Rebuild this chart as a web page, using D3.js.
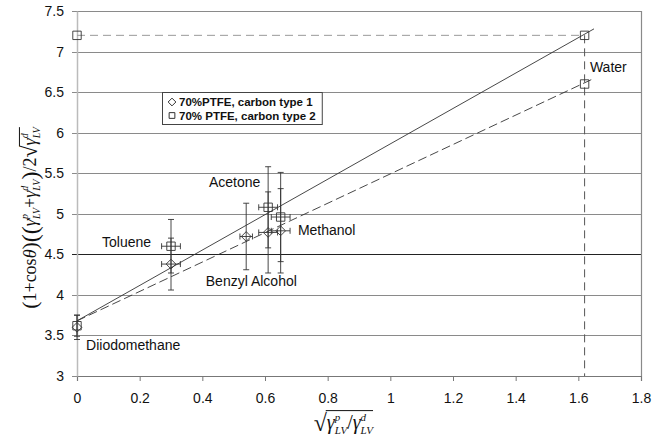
<!DOCTYPE html>
<html>
<head>
<meta charset="utf-8">
<script src="https://cdn.jsdelivr.net/npm/d3@7"></script>
<style>
  body { margin: 0; background: #fff; }
  svg text { font-family: "Liberation Sans", Arial, sans-serif; fill: #111; }
</style>
</head>
<body>
<svg id="chart" width="653" height="446"></svg>
<script>
// Axis ticks
const xTicks = [0, 0.2, 0.4, 0.6, 0.8, 1, 1.2, 1.4, 1.6, 1.8];
const yTicks = [3, 3.5, 4, 4.5, 5, 5.5, 6, 6.5, 7, 7.5];

// 70%PTFE, carbon type 1 (diamonds)
const type1X = [0, 0.30, 0.54, 0.61, 0.65];
const type1Y = [3.60, 4.38, 4.72, 4.77, 4.79];
const type1XErr = [0, 0.03, 0.02, 0.03, 0.03];
const type1YErr = [0.15, 0.32, 0.41, 0.50, 0.52];

// 70% PTFE, carbon type 2 (squares)
const type2X = [0, 0.30, 0.61, 0.65];
const type2Y = [3.62, 4.60, 5.08, 4.96];
const type2XErr = [0, 0.03, 0.03, 0.03];
const type2YErr = [0.13, 0.33, 0.50, 0.55];

// water points and the guide marker
const waterX = [1.62, 1.62];
const waterY = [7.20, 6.60];
const guideX = [0, 1.62];
const guideY = [7.20, 7.20];

// fitted lines [x, y]
const fitSolid = [[0, 3.68], [1.65, 7.28]];
const fitDashed = [[0, 3.68], [1.645, 6.66]];

// solvent labels
const labelNames = ["Water", "Acetone", "Toluene", "Methanol", "Benzyl Alcohol", "Diiodomethane"];
const labelX = [1.637, 0.421, 0.08, 0.705, 0.411, 0.029];
const labelY = [6.75, 5.33, 4.59, 4.74, 4.11, 3.32];

const legendNames = ["70%PTFE, carbon type 1", "70% PTFE, carbon type 2"];

const svg = d3.select("#chart");
const margin = { top: 11, right: 12, bottom: 70, left: 77 };
const width = 653 - margin.left - margin.right,
      height = 446 - margin.top - margin.bottom;

const g = svg.append("g").attr("transform", `translate(${margin.left},${margin.top})`);

const x = d3.scaleLinear().domain([0, 1.8]).range([0, width]);
const y = d3.scaleLinear().domain([3, 7.5]).range([height, 0]);

const ink = "#333";

// gridlines
g.selectAll(".grid")
    .data(yTicks)
    .enter().append("line")
    .attr("x1", -5).attr("x2", width)
    .attr("y1", d => Math.round(y(d)) + 0.5).attr("y2", d => Math.round(y(d)) + 0.5)
    .attr("stroke", d => d === 4.5 ? "#222" : "#8a8a8a")
    .attr("stroke-width", 1.2);

// right frame
g.append("line")
    .attr("x1", width + 0.5).attr("x2", width + 0.5)
    .attr("y1", 0).attr("y2", height)
    .attr("stroke", "#8a8a8a").attr("stroke-width", 1.2);

// X axis
const xAxis = g.append("g")
    .attr("transform", `translate(0,${height})`)
    .call(d3.axisBottom(x).tickValues(xTicks).tickSize(5).tickPadding(12)
        .tickFormat(d => d3.format("")(+d.toFixed(1))));
xAxis.select(".domain").attr("stroke", "#777").attr("stroke-width", 1.2);
xAxis.selectAll(".tick line").attr("stroke", "#777");
xAxis.selectAll("text").style("font-size", "14px").attr("fill", "#111");

// Y axis
const yAxis = g.append("g")
    .call(d3.axisLeft(y).tickValues(yTicks).tickSize(0).tickPadding(13)
        .tickFormat(d => d3.format("")(d)));
yAxis.select(".domain").attr("stroke", "#bbb").attr("stroke-width", 1.5);
yAxis.selectAll("text").style("font-size", "14px").attr("fill", "#111");

// guide dashed lines to the water point
g.append("line")
    .attr("x1", x(guideX[0])).attr("x2", x(guideX[1]))
    .attr("y1", y(guideY[0])).attr("y2", y(guideY[1]))
    .attr("stroke", "#999").attr("stroke-dasharray", "8,5");
g.append("line")
    .attr("x1", x(guideX[1])).attr("x2", x(guideX[1]))
    .attr("y1", y(guideY[1])).attr("y2", y(3))
    .attr("stroke", "#555").attr("stroke-dasharray", "8,5");

// fitted lines
const line = d3.line().x(d => x(d[0])).y(d => y(d[1]));
g.append("path").attr("d", line(fitSolid))
    .attr("fill", "none").attr("stroke", ink).attr("stroke-width", 0.9);
g.append("path").attr("d", line(fitDashed))
    .attr("fill", "none").attr("stroke", ink).attr("stroke-width", 0.9)
    .attr("stroke-dasharray", "9,4");

// error bars
function errorBars(xs, ys, xe, ye) {
    xs.forEach((xv, i) => {
        const cx = x(xv), cy = y(ys[i]);
        const y0 = y(ys[i] - ye[i]), y1 = y(ys[i] + ye[i]);
        g.append("line").attr("x1", cx).attr("x2", cx).attr("y1", y0).attr("y2", y1)
            .attr("stroke", ink).attr("stroke-width", 0.9);
        [y0, y1].forEach(yy => g.append("line")
            .attr("x1", cx - 3).attr("x2", cx + 3).attr("y1", yy).attr("y2", yy)
            .attr("stroke", ink).attr("stroke-width", 0.9));
        if (xe[i] > 0) {
            const x0 = x(xv - xe[i]), x1 = x(xv + xe[i]);
            g.append("line").attr("x1", x0).attr("x2", x1).attr("y1", cy).attr("y2", cy)
                .attr("stroke", ink).attr("stroke-width", 0.9);
            [x0, x1].forEach(xx => g.append("line")
                .attr("x1", xx).attr("x2", xx).attr("y1", cy - 3).attr("y2", cy + 3)
                .attr("stroke", ink).attr("stroke-width", 0.9));
        }
    });
}
errorBars(type1X, type1Y, type1XErr, type1YErr);
errorBars(type2X, type2Y, type2XErr, type2YErr);

// markers
const diamond = d3.symbol().type(d3.symbolDiamond2).size(60);
const square = d3.symbol().type(d3.symbolSquare2).size(90);

g.selectAll(".d1")
    .data(type1X.map((v, i) => [v, type1Y[i]]))
    .enter().append("path")
    .attr("d", diamond)
    .attr("transform", d => `translate(${x(d[0])},${y(d[1])})`)
    .attr("fill", "none").attr("stroke", ink).attr("stroke-width", 0.9);

g.selectAll(".s2")
    .data(type2X.map((v, i) => [v, type2Y[i]])
        .concat(waterX.map((v, i) => [v, waterY[i]]))
        .concat([[guideX[0], guideY[0]]]))
    .enter().append("path")
    .attr("d", square)
    .attr("transform", d => `translate(${x(d[0])},${y(d[1])})`)
    .attr("fill", "none").attr("stroke", ink).attr("stroke-width", 0.9);

// solvent labels
g.selectAll(".lbl")
    .data(labelNames)
    .enter().append("text")
    .attr("x", (d, i) => x(labelX[i]))
    .attr("y", (d, i) => y(labelY[i]))
    .style("font-size", "14px")
    .text(d => d);

// legend
const lg = svg.append("g").attr("transform", "translate(162,92)");
const box = lg.append("rect").attr("x", 0.5).attr("y", 0.5).attr("height", 32)
    .attr("fill", "#fff").attr("stroke", "#444");
let maxW = 0;
legendNames.forEach((name, i) => {
    const cy = 10 + i * 13.5;
    lg.append("path")
        .attr("d", d3.symbol().type(i === 0 ? d3.symbolDiamond2 : d3.symbolSquare2).size(i === 0 ? 38 : 42))
        .attr("transform", `translate(10,${cy})`)
        .attr("fill", "none").attr("stroke", ink);
    const t = lg.append("text").attr("x", 17).attr("y", cy + 4)
        .style("font-size", "11.5px").style("font-weight", "bold")
        .text(name);
    maxW = Math.max(maxW, t.node().getComputedTextLength());
});
box.attr("width", 17 + maxW + 6);

// math label helper: lays parts left to right
function mathText(parent, parts, size, family) {
    const grp = parent.append("g");
    let cx = 0;
    const overlines = [];
    parts.forEach(p => {
        if (p.sup !== undefined) {
            const a = grp.append("text").attr("x", cx).attr("y", -size * 0.42)
                .style("font-size", size * 0.55 + "px").style("font-style", "italic")
                .style("font-family", family).text(p.sup);
            const b = grp.append("text").attr("x", cx).attr("y", size * 0.24)
                .style("font-size", size * 0.55 + "px").style("font-style", "italic")
                .style("font-family", family).text(p.sub);
            cx += Math.max(a.node().getComputedTextLength(), b.node().getComputedTextLength());
        } else {
            const t = grp.append("text").attr("x", cx).attr("y", p.dy || 0)
                .style("font-size", (p.size || size) + "px")
                .style("font-style", p.it ? "italic" : "normal")
                .style("font-family", family).text(p.t);
            const w = t.node().getComputedTextLength();
            if (p.root) overlines.push({ from: cx + w * 0.92 });
            cx += w + (p.gap || 0);
        }
        if (p.endRoot) overlines[overlines.length - 1].to = cx;
    });
    overlines.forEach(o => grp.append("line")
        .attr("x1", o.from).attr("x2", o.to)
        .attr("y1", -size * 0.92).attr("y2", -size * 0.92)
        .attr("stroke", "#111").attr("stroke-width", 1));
    return { grp, w: cx };
}

// y label
const yl = svg.append("g").attr("transform", "translate(36,218) rotate(-90)");
const yParts = [
    { t: "(", size: 22, dy: 1 }, { t: "1+cos" }, { t: "θ", it: true }, { t: ")", size: 22, dy: 1 },
    { t: "((", size: 24, dy: 2 },
    { t: "γ", it: true }, { sup: "p", sub: "LV" }, { t: "+" },
    { t: "γ", it: true }, { sup: "d", sub: "LV" }, { t: ")", size: 24, dy: 2 }, { t: "/2" },
    { t: "√", root: true, size: 22, dy: 1 }, { t: "γ", it: true }, { sup: "d", sub: "LV", endRoot: true }
];
const ym = mathText(yl, yParts, 18, "Liberation Serif");
ym.grp.attr("transform", `translate(${-ym.w / 2},0)`);

// x label
const xl = svg.append("g").attr("transform", `translate(${margin.left + x(0.85)},429)`);
const xParts = [
    { t: "√", root: true, size: 24, dy: 2 }, { t: "γ", it: true }, { sup: "p", sub: "LV" }, { t: " / " },
    { t: "γ", it: true }, { sup: "d", sub: "LV", endRoot: true }
];
const xm = mathText(xl, xParts, 20, "Liberation Serif");
xm.grp.attr("transform", `translate(${-xm.w / 2},0)`);
</script>
</body>
</html>
